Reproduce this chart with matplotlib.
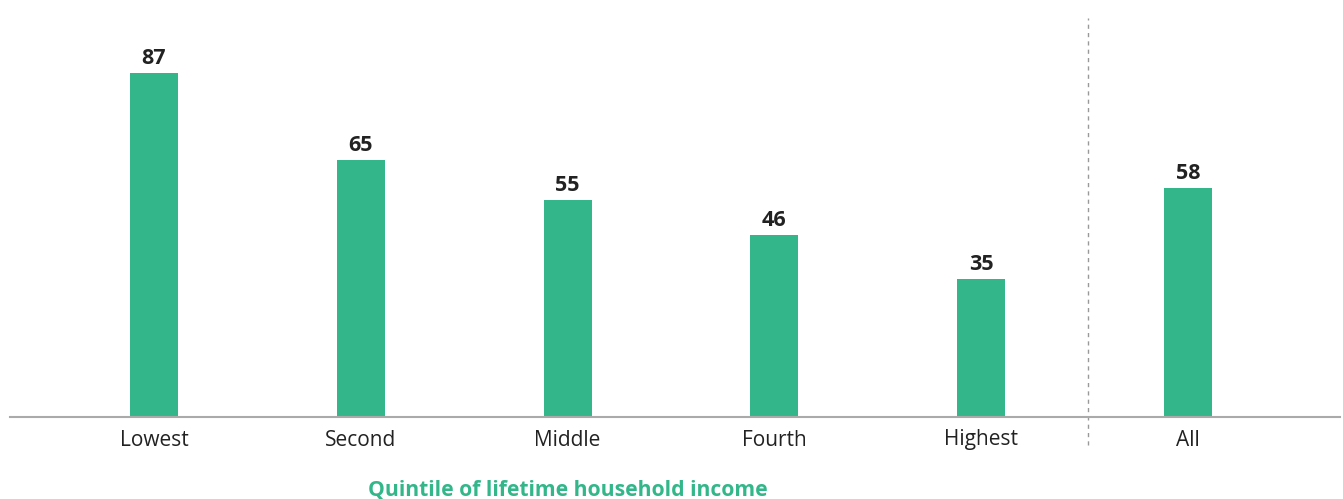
import matplotlib.pyplot as plt
import numpy as np

plt.rcParams['font.family'] = ['Open Sans', 'DejaVu Sans']

categories = ['Lowest', 'Second', 'Middle', 'Fourth', 'Highest', 'All']
values = [87, 65, 55, 46, 35, 58]
xlabel = 'Quintile of lifetime household income'

green = '#33b78a'

fig = plt.figure(figsize=(13.43, 4.99), dpi=100)
ax = fig.add_axes([10 / 1343, 82 / 499, 1330 / 1343, 395 / 499])

x = np.arange(len(categories))
bars = ax.bar(x, values, width=0.232, color=green, zorder=2)
for xi, v in zip(x, values):
    ax.annotate(str(v), (xi, v), xytext=(0, 3), textcoords='offset points',
                ha='center', va='bottom', fontsize=15.5, fontweight='bold', color='#222222')

ax.set_xlim(-0.696, 5.735)
ax.set_ylim(0, 100)

# separator between quintiles and "All"
ax.plot([4.515, 4.515], [-7, 101], ls=(0, (3, 3)), color='#999999', lw=1, clip_on=False, zorder=1)

for s in ['top', 'right', 'left']:
    ax.spines[s].set_visible(False)
ax.spines['bottom'].set_color('#aaaaaa')
ax.spines['bottom'].set_linewidth(1.5)

ax.set_yticks([])
ax.set_xticks(x)
ax.set_xticklabels(categories, fontsize=15, color='#222222')
ax.tick_params(axis='x', length=0, pad=9)

ax.text(2, -18.5, xlabel, ha='center', va='center', fontsize=15.2, fontweight='bold', color=green)

fig.savefig('out.png', dpi=100)
